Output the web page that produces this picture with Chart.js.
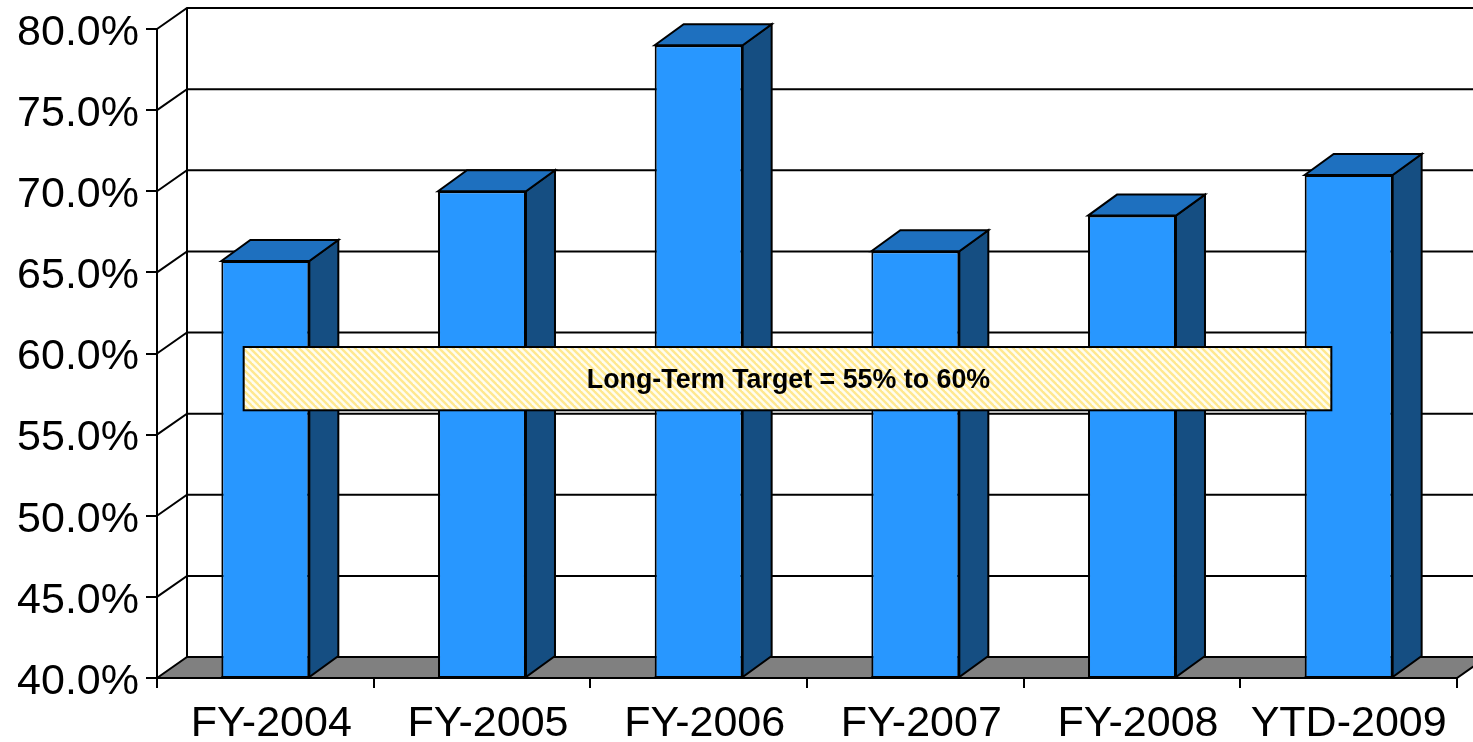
<!DOCTYPE html>
<html>
<head>
<meta charset="utf-8">
<style>
    html, body { margin: 0; padding: 0; background: #fff; }
    canvas { display: block; }
</style>
<script src="https://cdn.jsdelivr.net/npm/chart.js@4/dist/chart.umd.js"></script>
</head>
<body>
<canvas id="myChart" width="1473" height="742"></canvas>
<script>
const categories = [' FY-2004', ' FY-2005', ' FY-2006', ' FY-2007', ' FY-2008', 'YTD-2009'];
const ratios = [65.7, 70.0, 79.0, 66.3, 68.5, 71.0];

const targetLabel = 'Long-Term Target = 55% to 60%';
const targetBandValues = [56.5, 60.4];
const targetBandCats = [-0.1, 4.92];

// depth of the fake 3d box
const DX = 30;
const DY = -21;
const BAR_DX = 29;

function stripes (ctx) {
    const tile = document.createElement('canvas');
    tile.width = 7;
    tile.height = 7;
    const t = tile.getContext('2d');
    t.fillStyle = '#fffdf0';
    t.fillRect(0, 0, 7, 7);
    t.strokeStyle = '#ffe88f';
    t.lineWidth = 2.4;
    for (let i = -7; i <= 7; i += 7) {
        t.beginPath();
        t.moveTo(i - 2, -2);
        t.lineTo(i + 9, 9);
        t.stroke();
    }
    return ctx.createPattern(tile, 'repeat');
}

function poly (ctx, pts, fill) {
    ctx.beginPath();
    pts.forEach((p, i) => i ? ctx.lineTo(p[0], p[1]) : ctx.moveTo(p[0], p[1]));
    ctx.closePath();
    ctx.fillStyle = fill;
    ctx.fill();
    ctx.stroke();
}

// Liberation sits a bit high on the tick, push the y labels down
function nudgeLabels (scale, dy) {
    const orig = scale.getLabelItems.bind(scale);
    scale.getLabelItems = area => {
        const items = orig(area);
        items.forEach(item => {
            if (!item.nudged) {
                item.textOffset += dy;
                item.nudged = true;
            }
        });
        return items;
    };
}

const box3d = {
    id: 'box3d',
    afterLayout (chart) {
        nudgeLabels(chart.scales.y, 4);
    },
    beforeDatasetsDraw (chart) {
        const ctx = chart.ctx;
        const { left, right, top, bottom } = chart.chartArea;
        const y = chart.scales.y;

        ctx.save();
        ctx.strokeStyle = '#000';
        ctx.lineWidth = 2;
        ctx.lineJoin = 'miter';

        // floor
        poly(ctx, [[left, bottom], [left + DX, bottom + DY], [right + DX, bottom + DY], [right, bottom]], '#808080');

        // wall grid lines
        y.ticks.forEach(tick => {
            const py = y.getPixelForValue(tick.value);
            if (tick.value === y.min) return;
            ctx.beginPath();
            ctx.moveTo(left, py);
            ctx.lineTo(left + DX, py + DY);
            ctx.lineTo(right + DX, py + DY);
            ctx.stroke();
        });

        ctx.beginPath();
        ctx.moveTo(left + DX, top + DY);
        ctx.lineTo(left + DX, bottom + DY);
        ctx.stroke();
        ctx.restore();
    },
    afterDatasetsDraw (chart) {
        const ctx = chart.ctx;
        const x = chart.scales.x;
        const y = chart.scales.y;

        ctx.save();
        ctx.strokeStyle = '#000';
        ctx.lineWidth = 2;
        ctx.lineJoin = 'miter';

        chart.getDatasetMeta(0).data.forEach(bar => {
            const l = bar.x - bar.width / 2;
            const r = bar.x + bar.width / 2;
            poly(ctx, [[r, bar.y], [r + BAR_DX, bar.y + DY], [r + BAR_DX, bar.base + DY], [r, bar.base]], '#154e82');
            poly(ctx, [[l, bar.y], [l + BAR_DX, bar.y + DY], [r + BAR_DX, bar.y + DY], [r, bar.y]], '#1e70bf');
            ctx.beginPath();
            ctx.moveTo(l, bar.base);
            ctx.lineTo(r, bar.base);
            ctx.stroke();
        });

        // target band
        const bx = x.getPixelForValue(targetBandCats[0]);
        const bw = x.getPixelForValue(targetBandCats[1]) - bx;
        const by = y.getPixelForValue(targetBandValues[1]);
        const bh = y.getPixelForValue(targetBandValues[0]) - by;
        ctx.fillStyle = stripes(ctx);
        ctx.fillRect(bx, by, bw, bh);
        ctx.strokeRect(bx, by, bw, bh);

        ctx.fillStyle = '#000';
        ctx.font = 'bold 26.8px "Liberation Sans"';
        ctx.textAlign = 'center';
        ctx.textBaseline = 'middle';
        ctx.fillText(targetLabel, bx + bw / 2 + 1, by + bh / 2 + 2);
        ctx.restore();
    }
};

const config = {
    type: 'bar',
    data: {
        labels: categories,
        datasets: [{
            data: ratios,
            base: 40,
            backgroundColor: '#2897ff',
            borderColor: '#000',
            borderWidth: 2,
            borderSkipped: 'bottom',
            categoryPercentage: 1,
            barPercentage: 0.406
        }]
    },
    plugins: [box3d],
    options: {
        responsive: false,
        animation: false,
        layout: { padding: { top: 29, right: 16, left: 0, bottom: 0 } },
        plugins: { legend: { display: false }, title: { display: false }, tooltip: { enabled: false } },
        scales: {
            x: {
                afterFit: scale => { scale.height = 64; },
                border: { color: '#000', width: 2 },
                grid: { drawOnChartArea: false, color: '#000', lineWidth: 2, tickLength: 10 },
                ticks: {
                    color: '#000',
                    font: { family: '"Liberation Sans"', size: 43, lineHeight: 1 },
                    maxRotation: 0,
                    autoSkip: false,
                    padding: 15
                }
            },
            y: {
                min: 40,
                max: 80,
                afterFit: scale => { scale.width = 157; },
                border: { color: '#000', width: 2 },
                grid: { drawOnChartArea: false, color: '#000', lineWidth: 2, tickLength: 11 },
                ticks: {
                    stepSize: 5,
                    color: '#000',
                    font: { family: '"Liberation Sans"', size: 43, lineHeight: 1 },
                    padding: 7,
                    callback: value => value.toFixed(1) + '%'
                }
            }
        }
    }
};

new Chart(document.getElementById('myChart'), config);
</script>
</body>
</html>
